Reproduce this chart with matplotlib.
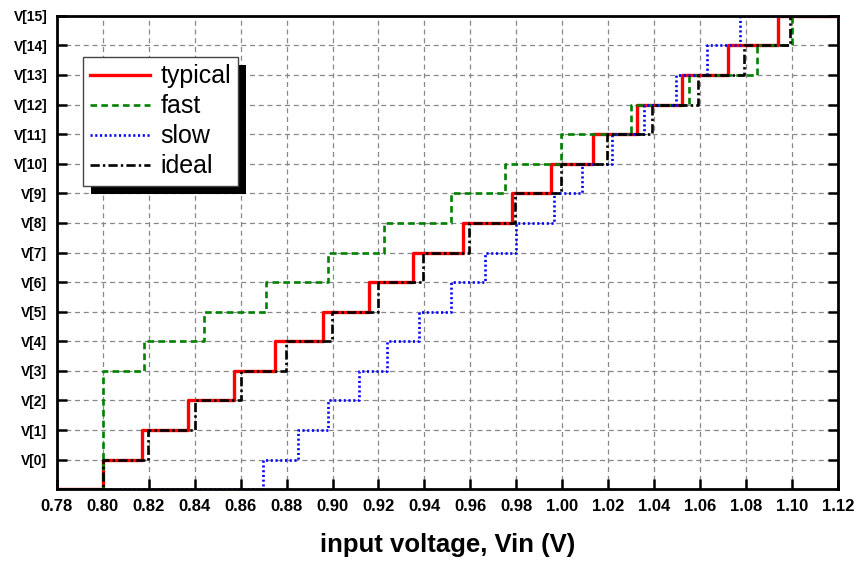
import matplotlib.pyplot as plt
from matplotlib.patches import Rectangle

plt.rcParams['font.family'] = ['Liberation Sans', 'DejaVu Sans']

# output codes V[0]..V[15]
levels = list(range(16))
level_labels = [f"V[{k}]" for k in levels]

# input voltage at which each code V[k] is reached
typical = [0.800, 0.817, 0.837, 0.857, 0.875, 0.896, 0.916, 0.935,
           0.957, 0.978, 0.995, 1.0135, 1.0325, 1.052, 1.072, 1.094]
fast = [0.800, 0.800, 0.800, 0.800, 0.818, 0.844, 0.871, 0.898,
        0.9226, 0.9516, 0.975, 0.9994, 1.030, 1.055, 1.085, 1.100]
slow = [0.8697, 0.885, 0.898, 0.9117, 0.9236, 0.9375, 0.9516, 0.9665,
        0.980, 0.9965, 1.0086, 1.0215, 1.0354, 1.0494, 1.0632, 1.0773]
ideal = [0.800, 0.8197, 0.840, 0.860, 0.8796, 0.8997, 0.9197, 0.9393,
         0.9596, 0.9794, 0.9994, 1.0193, 1.0393, 1.0593, 1.0791, 1.099]

x_min, x_max = 0.78, 1.12
x_ticks = [0.78 + 0.02 * i for i in range(18)]

fig = plt.figure(figsize=(8.62, 5.63), dpi=100)
ax = fig.add_axes([0.066, 0.131, 0.906, 0.841])


def steps(trans):
    xs = [x_min] + trans + [x_max]
    ys = [-1] + levels + [15]
    return xs, ys


series = [
    (typical, 'typical', dict(color='red', ls='-', lw=2.4)),
    (fast, 'fast', dict(color='green', ls=(0, (2.5, 1.6)), lw=1.9)),
    (slow, 'slow', dict(color='blue', ls=(0, (0.8, 1.0)), lw=1.9)),
    (ideal, 'ideal', dict(color='black', ls=(0, (3.5, 1.2, 0.9, 1.2)), lw=1.9)),
]
for trans, name, style in series:
    xs, ys = steps(trans)
    ax.step(xs, ys, where='post', label=name, **style)

ax.set_xlim(x_min, x_max)
ax.set_ylim(-1, 15)
ax.set_xticks(x_ticks)
ax.set_xticklabels([f"{v:.2f}" for v in x_ticks], fontsize=12, fontweight='bold')
ax.set_yticks(levels)
ax.set_yticklabels(level_labels, fontsize=10, fontweight='bold')
ax.grid(True, color='#888888', ls=(0, (4, 3)), lw=0.9)
ax.tick_params(direction='in', length=7, width=1.8, right=True, pad=7)
for sp in ax.spines.values():
    sp.set_linewidth(2)
ax.set_axisbelow(True)

ax.set_xlabel('input voltage, Vin (V)', fontsize=18.5, fontweight='bold', labelpad=14)

leg = ax.legend(loc='upper left', bbox_to_anchor=(0.033, 0.913), borderaxespad=0,
                fontsize=18, fancybox=False, framealpha=1, edgecolor='#444444',
                handlelength=2.4, labelspacing=0.24, borderpad=0.3,
                handletextpad=0.4)
leg.get_frame().set_linewidth(1.0)
leg.set_zorder(10)

# solid black drop shadow behind the legend box
fig.canvas.draw()
bb = leg.get_window_extent()
shadow = Rectangle((bb.x0 + 8, bb.y0 - 8), bb.width, bb.height,
                   transform=None, facecolor='black', edgecolor='none', zorder=9)
ax.add_artist(shadow)

fig.savefig('out.png', dpi=100)
